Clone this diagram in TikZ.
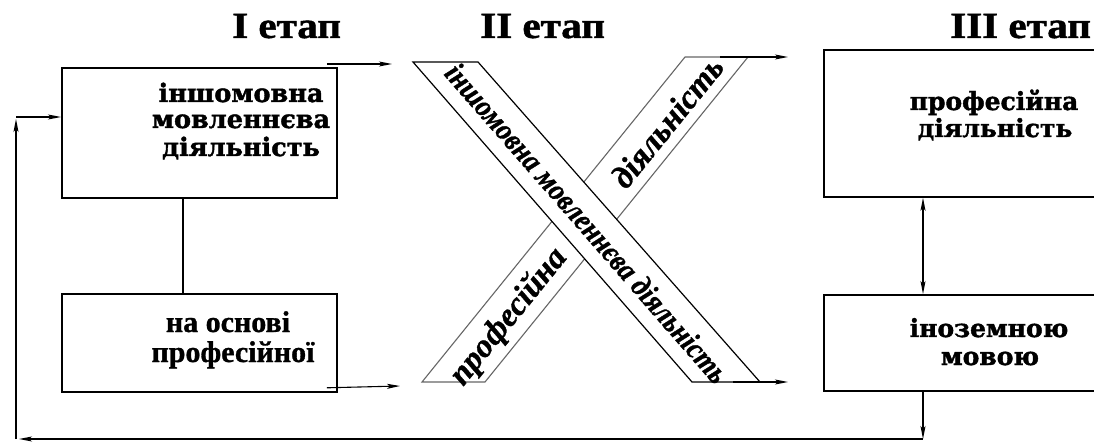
\documentclass[tikz,border=0pt]{standalone}
\usepackage{fontspec}
\setmainfont{Liberation Serif}[BoldFeatures={FakeBold=1}]
\newfontfamily\boxfont{DejaVu Serif}[BoldFeatures={FakeBold=1.6}]
\newfontfamily\titlefont{Liberation Serif}[BoldFeatures={FakeStretch=1.11, FakeBold=1.2}]
\newfontfamily\bandAfont{Liberation Serif}[BoldItalicFeatures={FakeStretch=0.88, FakeBold=1}]
\newfontfamily\bandBfont{Liberation Serif}[BoldItalicFeatures={FakeStretch=1.0, FakeBold=1}]
\usetikzlibrary{arrows.meta}
\begin{document}
\begin{tikzpicture}[x=1pt,y=-1pt,
  box/.style={draw, line width=1.8pt, inner sep=0pt, anchor=north west},
  arr/.style={line width=1.1pt, -{Stealth[length=13pt,width=5pt,inset=3pt]}},
  darr/.style={line width=1.1pt, {Stealth[length=13pt,width=5pt,inset=3pt]}-{Stealth[length=13pt,width=5pt,inset=3pt]}},
  plain/.style={line width=1.1pt},
  title/.style={font=\titlefont\bfseries\fontsize{37}{40}\selectfont, anchor=base west, inner sep=0pt},
  wide/.style={font=\boxfont\bfseries\fontsize{25.5}{27}\selectfont, anchor=base, inner sep=0pt},
  wider/.style={font=\boxfont\bfseries\fontsize{25}{27}\selectfont, anchor=base, inner sep=0pt},
  narrow/.style={font=\bfseries\fontsize{30}{32}\selectfont, anchor=base, inner sep=0pt},
  bandtA/.style={font=\bandAfont\bfseries\itshape\fontsize{31}{33}\selectfont, inner sep=0pt},
  bandtB/.style={font=\bandBfont\bfseries\itshape\fontsize{33}{35}\selectfont, inner sep=0pt},
  bandA/.style={draw=black, fill=white, line width=1.2pt, line join=miter},
  bandB/.style={draw=black!60, fill=white, line width=1.1pt, line join=miter}
]
\path[use as bounding box] (0,0) rectangle (1094,443);
\clip (0,0) rectangle (1094,443);

% titles
\node[title] (ti1) at (232,38) {I етап};
\node[title] (ti2) at (480,38) {II етап};
\node[title] (ti3) at (950,38) {III етап};

% boxes
\node[box, minimum width=275pt, minimum height=130pt] (b1) at (61,67) {};
\node[box, minimum width=275pt, minimum height=98pt] (b2) at (61,293) {};
\node[box, minimum width=300pt, minimum height=147pt] (b3) at (823,49) {};
\node[box, minimum width=300pt, minimum height=96pt] (b4) at (823,294) {};

% box texts
\node[wide] (t1a) at (241,102) {іншомовна};
\node[wide] (t1b) at (241,128) {мовленнєва};
\node[wide] (t1c) at (241,156) {діяльність};
\node[narrow] (t2a) at (228,332) {на основі};
\node[narrow] (t2b) at (233,362) {професійної};
\node[wider] (t3a) at (994,110) {професійна};
\node[wider] (t3b) at (995,137) {діяльність};
\node[wider] (t4a) at (989,337) {іноземною};
\node[wider] (t4b) at (990,365) {мовою};

% X bands
\coordinate (B1) at (422,382);
\coordinate (B2) at (485,382);
\coordinate (B3) at (748,57);
\coordinate (B4) at (685,57);
\coordinate (A1) at (413,62);
\coordinate (A2) at (478,62);
\coordinate (A3) at (760,382);
\coordinate (A4) at (692,382);
\path[bandB] (B1) -- (B2) -- (B3) -- (B4) -- cycle;
\node[bandtB, rotate=51] (bt1) at (509,317) {професійна};
\node[bandtB, rotate=51] (bt2) at (667,122) {діяльність};
\path[bandA] (A1) -- (A2) -- (A3) -- (A4) -- cycle;
\node[bandtA, rotate=-48.9] (at) at (587,223) {іншомовна мовленнєва діяльність};

% connectors
\coordinate (inA) at (392,64);
\coordinate (inB) at (400,386);
\coordinate (outB) at (788,57);
\coordinate (outA) at (788,382);
\draw[arr] ([xshift=-11pt,yshift=3pt]b1.north east) -- (inA);
\draw[arr] ([xshift=-11pt,yshift=5pt]b2.south east) -- (inB);
\draw[arr] (720,57) -- (outB);
\draw[arr] (733,382) -- (outA);
\draw[plain] ([xshift=122pt]b1.south west) -- ([xshift=122pt]b2.north west);
\draw[darr] ([xshift=100pt]b3.south west) -- ([xshift=100pt]b4.north west);
\coordinate (dn) at (923,439);
\coordinate (cornerL) at (16,439);
\coordinate (up) at (16,119);
\coordinate (lft) at (16,117);
\draw[arr] ([xshift=100pt]b4.south west) -- (dn);
\draw[arr] (dn) -- ([xshift=3pt]cornerL);
\draw[arr] (cornerL) -- (up);
\draw[arr] (lft) -- (lft -| b1.west);
\end{tikzpicture}
\end{document}
